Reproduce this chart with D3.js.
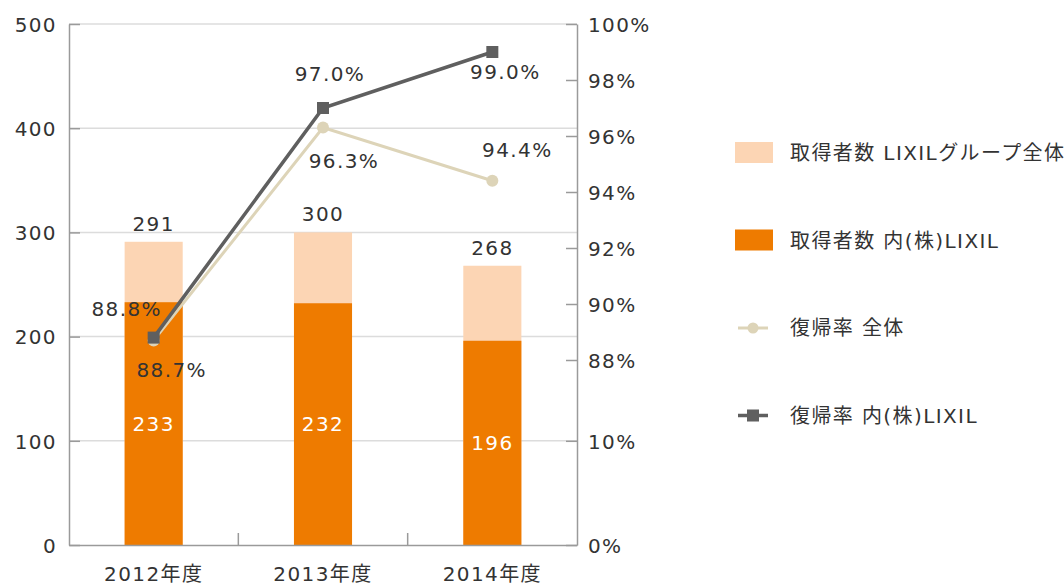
<!DOCTYPE html>
<html>
<head>
<meta charset="utf-8">
<script src="https://cdn.jsdelivr.net/npm/d3@7"></script>
<style>
    body { margin: 0; background: #fff; }
    svg text { font-family: "DejaVu Sans", "Noto Sans CJK JP", sans-serif; font-size: 20px; letter-spacing: 1.4px; fill: #333; }
</style>
</head>
<body>
<svg id="chart" width="1064" height="586"></svg>
<script>
// data
var years = ["2012年度", "2013年度", "2014年度"];
var totalCount = [291, 300, 268];      // 取得者数 LIXILグループ全体
var lixilCount = [233, 232, 196];      // 取得者数 内(株)LIXIL
var rateAll = [88.7, 96.3, 94.4];      // 復帰率 全体
var rateLixil = [88.8, 97.0, 99.0];    // 復帰率 内(株)LIXIL
var leftTicks = [0, 100, 200, 300, 400, 500];
var rightTicks = [0, 10, 88, 90, 92, 94, 96, 98, 100];
var legendLabels = ["取得者数 LIXILグループ全体", "取得者数 内(株)LIXIL", "復帰率 全体", "復帰率 内(株)LIXIL"];

// label nudges for the percent labels (dx, dy from the marker)
var allLabelOffset = [[18, 30], [21, 33], [25, -31]];
var lixilLabelOffset = [[-27, -29], [7, -34], [13, 20]];

var colors = {
    total: "#fcd5b4",
    lixil: "#ee7b00",
    all: "#ddd4b8",
    lixilRate: "#5f5f5f",
    grid: "#dcdcdc",
    axis: "#9a9a9a"
};

var plot = {left: 69, right: 577, top: 24, bottom: 545};

var svg = d3.select("#chart");

var x = d3.scaleBand()
    .domain(years)
    .range([plot.left, plot.right])
    .paddingInner(0.657)
    .paddingOuter(0.657 / 2);

var y = d3.scaleLinear().domain([0, 500]).range([plot.bottom, plot.top]);

// broken percent axis: 0-10 at the bottom, 88-100 stretched over the rest
var yr = d3.scaleLinear().domain([0, 10, 88, 100]).range([plot.bottom, y(100), 360, plot.top]);

// grid lines
svg.append("g").selectAll("line")
    .data(leftTicks.slice(1))
    .join("line")
    .attr("x1", plot.left).attr("x2", plot.right)
    .attr("y1", function (d) { return y(d); })
    .attr("y2", function (d) { return y(d); })
    .style("stroke", colors.grid)
    .style("stroke-width", 1.5);

// bars
var cx = function (d, i) { return x(years[i]); };
svg.append("g").selectAll("rect")
    .data(totalCount)
    .join("rect")
    .attr("x", cx)
    .attr("y", function (d) { return y(d); })
    .attr("width", x.bandwidth())
    .attr("height", function (d) { return y(0) - y(d); })
    .style("fill", colors.total);

svg.append("g").selectAll("rect")
    .data(lixilCount)
    .join("rect")
    .attr("x", cx)
    .attr("y", function (d) { return y(d); })
    .attr("width", x.bandwidth())
    .attr("height", function (d) { return y(0) - y(d); })
    .style("fill", colors.lixil);

var mid = function (d, i) { return x(years[i]) + x.bandwidth() / 2; };

// bar labels
svg.append("g").selectAll("text")
    .data(totalCount)
    .join("text")
    .attr("x", mid)
    .attr("y", function (d) { return y(d) - 11; })
    .attr("text-anchor", "middle")
    .text(function (d) { return d; });

svg.append("g").selectAll("text")
    .data(lixilCount)
    .join("text")
    .attr("x", mid)
    .attr("y", function (d) { return y(d / 2) + 7; })
    .attr("text-anchor", "middle")
    .style("fill", "#fff")
    .text(function (d) { return d; });

// axes
var leftAxis = d3.axisLeft(y).tickValues(leftTicks).tickSizeInner(-11).tickSizeOuter(0).tickPadding(12);
var gl = svg.append("g").attr("transform", "translate(" + plot.left + ",0)").call(leftAxis);

var rightAxis = d3.axisRight(yr).tickValues(rightTicks).tickSizeInner(-11).tickSizeOuter(0).tickPadding(11)
    .tickFormat(function (d) { return d + "%"; });
var gr = svg.append("g").attr("transform", "translate(" + plot.right + ",0)").call(rightAxis);

var bottomAxis = d3.axisBottom(x).tickSize(0).tickPadding(22);
var gb = svg.append("g").attr("transform", "translate(0," + plot.bottom + ")").call(bottomAxis);

[gl, gr, gb].forEach(function (g) {
    g.selectAll("path, line").style("stroke", colors.axis).style("stroke-width", 1.5);
    g.selectAll("text").style("fill", "#333");
    g.attr("font-family", null).attr("font-size", null);
});
gl.selectAll("text").attr("dy", "0.36em");
gr.selectAll("text").attr("dy", "0.36em");

// category separators on the x axis
svg.append("g").selectAll("line")
    .data(years.slice(1))
    .join("line")
    .attr("x1", function (d) { return x(d) - x.step() * x.paddingInner() / 2; })
    .attr("x2", function (d) { return x(d) - x.step() * x.paddingInner() / 2; })
    .attr("y1", plot.bottom)
    .attr("y2", plot.bottom - 12)
    .style("stroke", colors.axis)
    .style("stroke-width", 1.5);

// lines
var line = d3.line()
    .x(function (d, i) { return mid(d, i); })
    .y(function (d) { return yr(d); });

svg.append("path")
    .datum(rateAll)
    .attr("d", line)
    .style("fill", "none")
    .style("stroke", colors.all)
    .style("stroke-width", 3);

svg.append("g").selectAll("circle")
    .data(rateAll)
    .join("circle")
    .attr("cx", mid)
    .attr("cy", function (d) { return yr(d); })
    .attr("r", 6)
    .style("fill", colors.all);

svg.append("path")
    .datum(rateLixil)
    .attr("d", line)
    .style("fill", "none")
    .style("stroke", colors.lixilRate)
    .style("stroke-width", 3.5);

svg.append("g").selectAll("rect")
    .data(rateLixil)
    .join("rect")
    .attr("x", function (d, i) { return mid(d, i) - 6; })
    .attr("y", function (d) { return yr(d) - 6; })
    .attr("width", 12)
    .attr("height", 12)
    .style("fill", colors.lixilRate);

// percent labels
svg.append("g").selectAll("text")
    .data(rateAll)
    .join("text")
    .attr("x", function (d, i) { return mid(d, i) + allLabelOffset[i][0]; })
    .attr("y", function (d, i) { return yr(d) + allLabelOffset[i][1] + 7; })
    .attr("text-anchor", "middle")
    .text(function (d) { return d.toFixed(1) + "%"; });

svg.append("g").selectAll("text")
    .data(rateLixil)
    .join("text")
    .attr("x", function (d, i) { return mid(d, i) + lixilLabelOffset[i][0]; })
    .attr("y", function (d, i) { return yr(d) + lixilLabelOffset[i][1] + 7; })
    .attr("text-anchor", "middle")
    .text(function (d) { return d.toFixed(1) + "%"; });

// legend
var legend = svg.append("g").attr("transform", "translate(735,153)");
var rowGap = 87.5;

legend.append("rect").attr("x", 0).attr("y", -11).attr("width", 38).attr("height", 21).style("fill", colors.total);
legend.append("rect").attr("x", 0).attr("y", rowGap - 11).attr("width", 38).attr("height", 21).style("fill", colors.lixil);

legend.append("line").attr("x1", 3).attr("x2", 33).attr("y1", rowGap * 2).attr("y2", rowGap * 2)
    .style("stroke", colors.all).style("stroke-width", 3);
legend.append("circle").attr("cx", 18).attr("cy", rowGap * 2).attr("r", 5.5).style("fill", colors.all);

legend.append("line").attr("x1", 3).attr("x2", 33).attr("y1", rowGap * 3).attr("y2", rowGap * 3)
    .style("stroke", colors.lixilRate).style("stroke-width", 3.5);
legend.append("rect").attr("x", 12).attr("y", rowGap * 3 - 6).attr("width", 12).attr("height", 12).style("fill", colors.lixilRate);

legend.selectAll("text.lbl")
    .data(legendLabels)
    .join("text")
    .attr("class", "lbl")
    .attr("x", 55)
    .attr("y", function (d, i) { return i * rowGap + 7; })
    .text(function (d) { return d; });
</script>
</body>
</html>
